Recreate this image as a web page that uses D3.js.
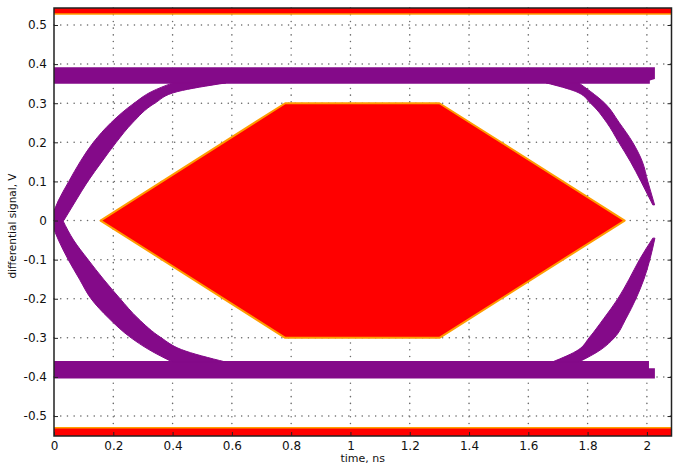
<!DOCTYPE html>
<html><head><meta charset="utf-8">
<script src="https://cdn.jsdelivr.net/npm/d3@7"></script>
<style>body{margin:0;background:#fff}svg{display:block}</style>
</head><body><svg id="c" width="675" height="467"></svg>
<script>
// ---- tick data ----
const xTicks=[0,0.2,0.4,0.6,0.8,1,1.2,1.4,1.6,1.8,2];
const xTickLabels=["0","0.2","0.4","0.6","0.8","1","1.2","1.4","1.6","1.8","2"];
const yTicks=[-0.5,-0.4,-0.3,-0.2,-0.1,0,0.1,0.2,0.3,0.4,0.5];
const yTickLabels=["-0.5","-0.4","-0.3","-0.2","-0.1","0","0.1","0.2","0.3","0.4","0.5"];

// ---- eye diagram bands ----
const upperRailX=[0,2.01,2.01,2.027,2.027,0];
const upperRailY=[0.350,0.350,0.358,0.362,0.392,0.392];
const lowerRailX=[0,2.007,2.007,2.027,2.027,0];
const lowerRailY=[-0.359,-0.359,-0.378,-0.378,-0.404,-0.404];

// transitions: level (V, ascending), outer edge time, inner edge time (ns)
const ultY=[0,0.05,0.1,0.15,0.2,0.25,0.3,0.33,0.352];
const ultOuter=[-0.012,0.014,0.05,0.088,0.133,0.192,0.27,0.33,0.40];
const ultInner=[0.033,0.073,0.114,0.161,0.21,0.265,0.34,0.418,0.58];

const lltY=[-0.362,-0.33,-0.3,-0.25,-0.2,-0.15,-0.1,-0.05,0];
const lltOuter=[0.40,0.32,0.26,0.185,0.125,0.086,0.048,0.015,-0.012];
const lltInner=[0.58,0.43,0.362,0.283,0.223,0.167,0.115,0.066,0.03];

const urtY=[0.04,0.1,0.15,0.2,0.25,0.3,0.33,0.352];
const urtOuter=[2.026,2.003,1.985,1.952,1.907,1.858,1.81,1.77];
const urtInner=[2.02,1.98,1.945,1.905,1.865,1.81,1.76,1.66];

const lrtY=[-0.362,-0.33,-0.3,-0.25,-0.2,-0.15,-0.1,-0.045];
const lrtOuter=[1.77,1.845,1.89,1.93,1.963,1.99,2.01,2.027];
const lrtInner=[1.68,1.77,1.805,1.855,1.902,1.94,1.975,2.02];

// ---- eye mask ----
const hexX=[0.157,0.78,1.30,1.925,1.30,0.78];
const hexY=[0,0.3,0.3,0,-0.3,-0.3];
const maskTop=0.528, maskBottom=-0.53;

// ---- layout ----
const L=54,R=671.5,T=8,B=436;
const xDomain=[0,2.083], yDomain=[-0.551,0.5435];
const x=d3.scaleLinear().domain(xDomain).range([L,R]);
const y=d3.scaleLinear().domain(yDomain).range([B,T]);
const purple="#840a89";

const svg=d3.select("#c");
svg.append("defs").append("clipPath").attr("id","clip")
  .append("rect").attr("x",L).attr("y",T).attr("width",R-L).attr("height",B-T);

// grid
const grid=svg.append("g").attr("stroke","#6a6a6a").attr("stroke-width",1.5)
  .attr("stroke-linecap","round").attr("stroke-dasharray","0.1,6.6");
grid.selectAll(".gx").data(xTicks.filter(d=>d>0)).join("line")
  .attr("x1",d=>x(d)).attr("x2",d=>x(d)).attr("y1",T).attr("y2",B);
grid.selectAll(".gy").data(yTicks).join("line")
  .attr("y1",d=>y(d)).attr("y2",d=>y(d)).attr("x1",L).attr("x2",R);

const plot=svg.append("g").attr("clip-path","url(#clip)");

// rails
const poly=d3.line().x(d=>x(d[0])).y(d=>y(d[1]));
[[upperRailX,upperRailY],[lowerRailX,lowerRailY]].forEach(([xs,ys])=>{
  plot.append("path").attr("d",poly(d3.zip(xs,ys))+"Z").attr("fill",purple);
});
// transitions
const area=d3.area().curve(d3.curveMonotoneY)
  .y(d=>y(d[0])).x0(d=>x(d[1])).x1(d=>x(d[2]));
[[ultY,ultOuter,ultInner],[lltY,lltOuter,lltInner],[urtY,urtOuter,urtInner],[lrtY,lrtOuter,lrtInner]]
.forEach(([ys,o,i])=>{
  plot.append("path").attr("d",area(d3.zip(ys,o,i))).attr("fill",purple)
    .attr("stroke",purple).attr("stroke-width",1);
});

// mask hexagon
plot.append("path").attr("d",poly(d3.zip(hexX,hexY))+"Z")
  .attr("fill","#ff0000").attr("stroke","#ff9c00").attr("stroke-width",2).attr("stroke-linejoin","round");
// mask bars
plot.append("rect").attr("x",L).attr("width",R-L).attr("y",T).attr("height",y(maskTop)-T).attr("fill","#ff0000");
plot.append("rect").attr("x",L).attr("width",R-L).attr("y",y(maskBottom)).attr("height",B-y(maskBottom)).attr("fill","#ff0000");
plot.append("line").attr("x1",L).attr("x2",R).attr("y1",y(maskTop)).attr("y2",y(maskTop)).attr("stroke","#ffa000").attr("stroke-width",1.5);
plot.append("line").attr("x1",L).attr("x2",R).attr("y1",y(maskBottom)).attr("y2",y(maskBottom)).attr("stroke","#ffa000").attr("stroke-width",1.5);

// axes
const font="DejaVu Sans, Verdana, sans-serif";
const ax=svg.append("g").attr("transform",`translate(0,${B})`)
  .call(d3.axisBottom(x).tickValues(xTicks).tickFormat((d,i)=>xTickLabels[i]).tickSize(-4).tickPadding(5));
const ay=svg.append("g").attr("transform",`translate(${L},0)`)
  .call(d3.axisLeft(y).tickValues(yTicks).tickFormat((d,i)=>yTickLabels[i]).tickSize(-4).tickPadding(7));
const ar=svg.append("g").attr("transform",`translate(${R},0)`)
  .call(d3.axisRight(y).tickValues(yTicks).tickFormat("").tickSize(-4));
[ax,ay,ar].forEach(g=>{
  g.select(".domain").remove();
  g.selectAll(".tick line").attr("stroke","#222").attr("stroke-width",1);
  g.selectAll("text").attr("font-family",font).attr("font-size",12).attr("fill","#111");
});
// frame
svg.append("rect").attr("x",L).attr("y",T).attr("width",R-L).attr("height",B-T)
  .attr("fill","none").attr("stroke","#222").attr("stroke-width",1.5);

// labels
svg.append("text").attr("x",(L+R)/2).attr("y",462).attr("text-anchor","middle")
  .attr("font-family",font).attr("font-size",11).attr("fill","#111").text("time, ns");
svg.append("text").attr("transform",`translate(16,${(T+B)/2+4}) rotate(-90)`).attr("text-anchor","middle")
  .attr("font-family",font).attr("font-size",10.5).attr("fill","#111").text("differential signal, V");
</script></body></html>
